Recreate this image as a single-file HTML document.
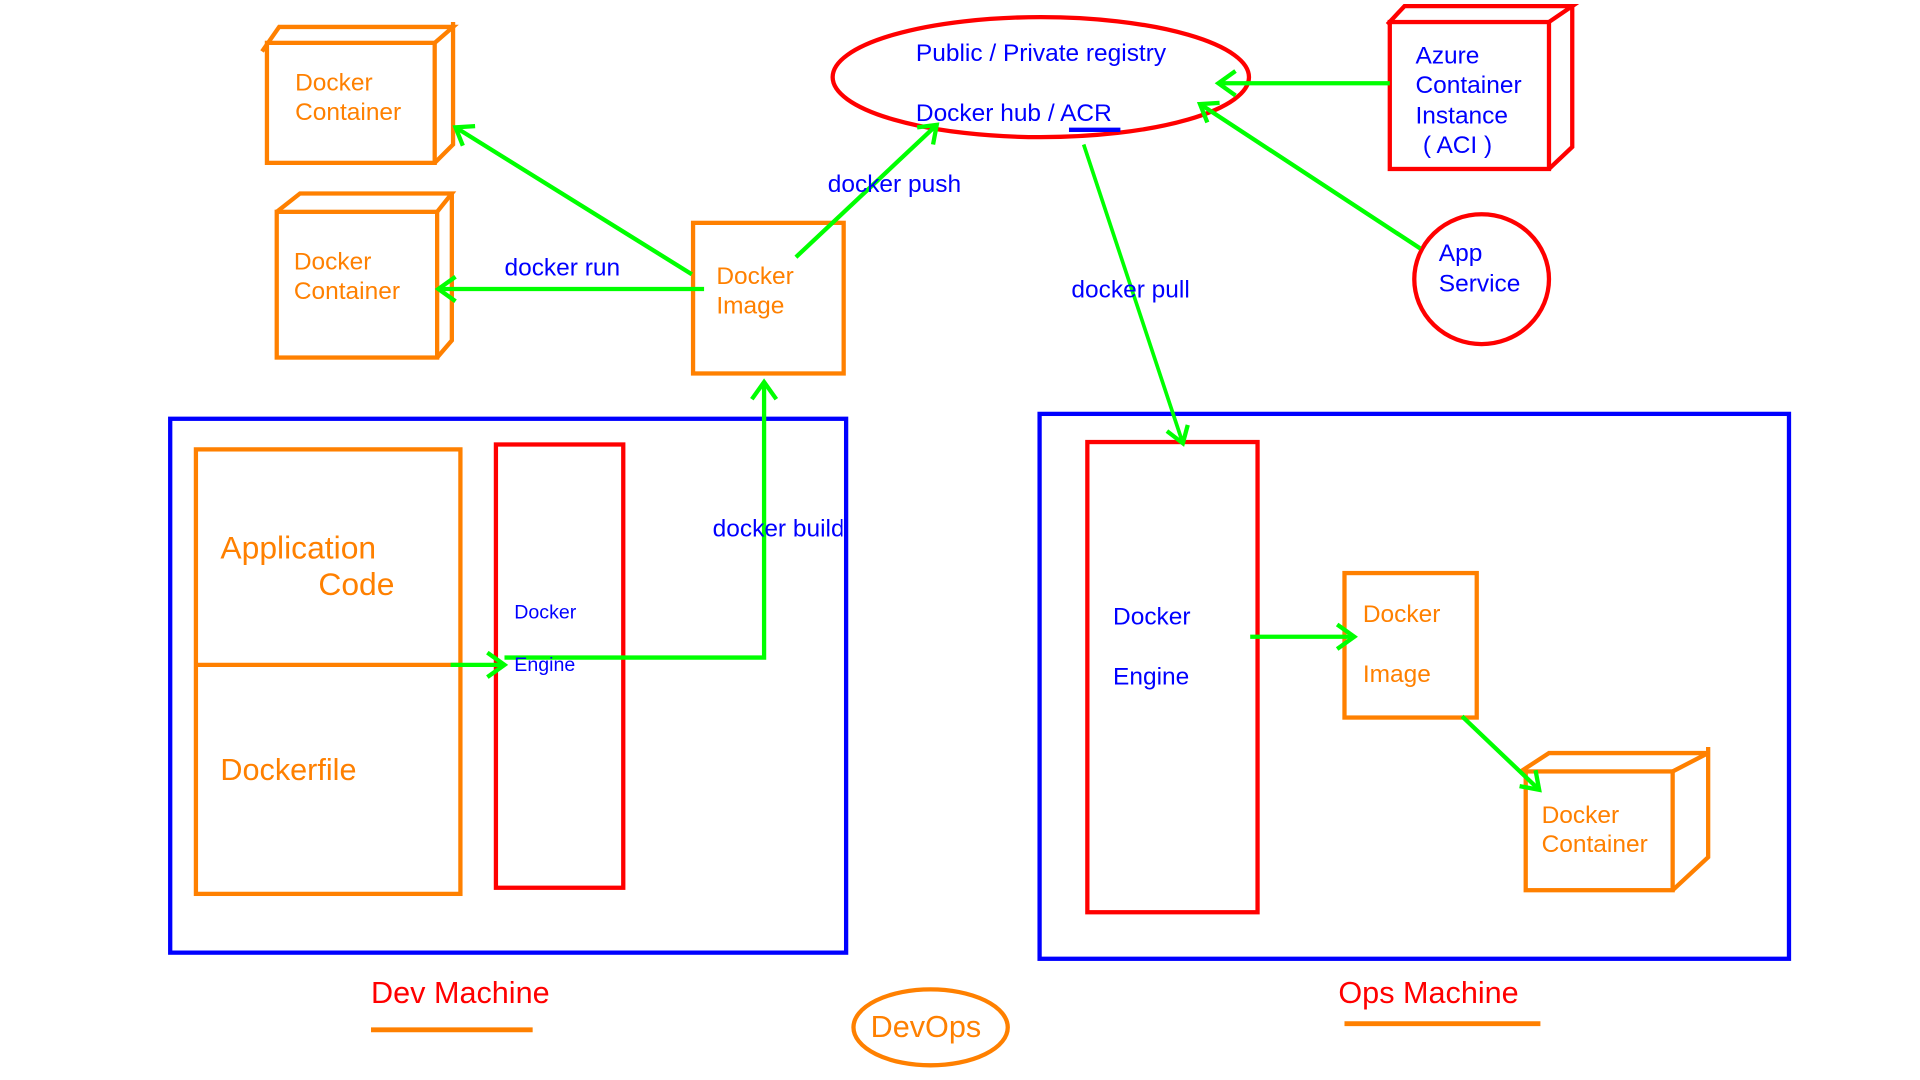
<!DOCTYPE html>
<html><head><meta charset="utf-8"><style>
html,body{margin:0;padding:0;background:#fff;width:1920px;height:1080px;overflow:hidden}
svg{display:block}
text{font-family:"Liberation Sans",sans-serif}
</style></head><body>
<svg width="1920" height="1080" viewBox="0 0 1568 882" preserveAspectRatio="none" xmlns="http://www.w3.org/2000/svg">
<defs><clipPath id="c1"><rect x="0" y="0" width="688" height="877"/></clipPath></defs>
<g fill="none" stroke-linejoin="miter">
<g stroke="#ff8000" stroke-width="3.5">
<rect x="218" y="35" width="137" height="98"/>
<polyline points="214,42 228,22 370,22 355,35"/>
<polyline points="370,18 370,118 355,133"/>
<rect x="226" y="173" width="131" height="119"/>
<polyline points="226,173 245,158 369,158 357,173"/>
<polyline points="369,158 369,278 357,292"/>
<rect x="566" y="182" width="123" height="123"/>
<rect x="160" y="367" width="216" height="363"/>
<line x1="160" y1="543" x2="376" y2="543"/>
<rect x="1098" y="468" width="108" height="118"/>
<rect x="1246" y="630" width="120" height="97"/>
<polyline points="1242,630 1265,615 1395,615 1366,630"/>
<polyline points="1395,610 1395,700 1366,727"/>
<ellipse cx="760" cy="839" rx="63" ry="31"/>
</g>
<g stroke="#ff8000" stroke-width="4">
<line x1="303" y1="841" x2="435" y2="841"/>
<line x1="1098" y1="836" x2="1258" y2="836"/>
</g>
<g stroke="#ff0000" stroke-width="3.5">
<ellipse cx="850" cy="63" rx="170" ry="49"/>
<rect x="1135" y="18" width="130" height="120"/>
<polyline points="1133,20 1147,5 1284,5 1265,18"/>
<polyline points="1284,5 1284,120 1265,138"/>
<ellipse cx="1210" cy="228" rx="55" ry="53"/>
<rect x="405" y="363" width="104" height="362"/>
<rect x="888" y="361" width="139" height="384"/>
</g>
<g stroke="#0000ff" stroke-width="3.5">
<rect x="139" y="342" width="552" height="436"/>
<rect x="849" y="338" width="612" height="445"/>
<line x1="873" y1="106" x2="915" y2="106"/>
</g>
<g stroke="#00ff00" stroke-width="3.5">
<line x1="565" y1="224" x2="372" y2="104"/><polyline points="378,119 372,104 388,103"/>
<line x1="575" y1="236" x2="358" y2="236"/><polyline points="372,226 358,236 372,246"/>
<line x1="650" y1="210" x2="765" y2="102"/><polyline points="749,104 765,102 762,118"/>
<line x1="1135" y1="68" x2="995" y2="68"/><polyline points="1009,58 995,68 1009,78"/>
<line x1="1160" y1="203" x2="980" y2="85"/><polyline points="986,100 980,85 996,84"/>
<line x1="885" y1="118" x2="966" y2="362" stroke-width="3"/><polyline points="970,347 966,362 953,352"/>
<line x1="368" y1="543" x2="412" y2="543"/><polyline points="398,533 412,543 398,553"/>
<polyline points="412,537 624,537 624,312"/><polyline points="614,326 624,312 634,326"/>
<line x1="1021" y1="520" x2="1106" y2="520"/><polyline points="1092,510 1106,520 1092,530"/>
<line x1="1194" y1="585" x2="1257" y2="645"/><polyline points="1254,629 1257,645 1241,642"/>
</g>
</g>
<g fill="#ff8000" font-size="20">
<text x="241" y="74">Docker</text><text x="241" y="98">Container</text>
<text x="240" y="220">Docker</text><text x="240" y="244">Container</text>
<text x="585" y="232">Docker</text><text x="585" y="256">Image</text>
<text x="1113" y="508">Docker</text><text x="1113" y="557">Image</text>
<text x="1259" y="672">Docker</text><text x="1259" y="696">Container</text>
<text x="180" y="456" font-size="26">Application</text><text x="260" y="486" font-size="26">Code</text>
<text x="180" y="637" font-size="25">Dockerfile</text>
<text x="711" y="847" font-size="25">DevOps</text>
</g>
<g fill="#0000ff" font-size="20">
<text x="748" y="50">Public / Private registry</text>
<text x="748" y="99">Docker hub / ACR</text>
<text x="1156" y="52">Azure</text><text x="1156" y="76">Container</text><text x="1156" y="101">Instance</text><text x="1162" y="125">( ACI )</text>
<text x="1175" y="213">App</text><text x="1175" y="238">Service</text>
<text x="676" y="157">docker push</text>
<text x="412" y="225">docker run</text>
<text x="875" y="243">docker pull</text>
<text x="582" y="438" clip-path="url(#c1)">docker build</text>
<text x="420" y="505" font-size="16">Docker</text><text x="420" y="548" font-size="16">Engine</text>
<text x="909" y="510">Docker</text><text x="909" y="559">Engine</text>
</g>
<g fill="#ff0000" font-size="25">
<text x="303" y="819">Dev Machine</text>
<text x="1093" y="819">Ops Machine</text>
</g>
</svg>
</body></html>
